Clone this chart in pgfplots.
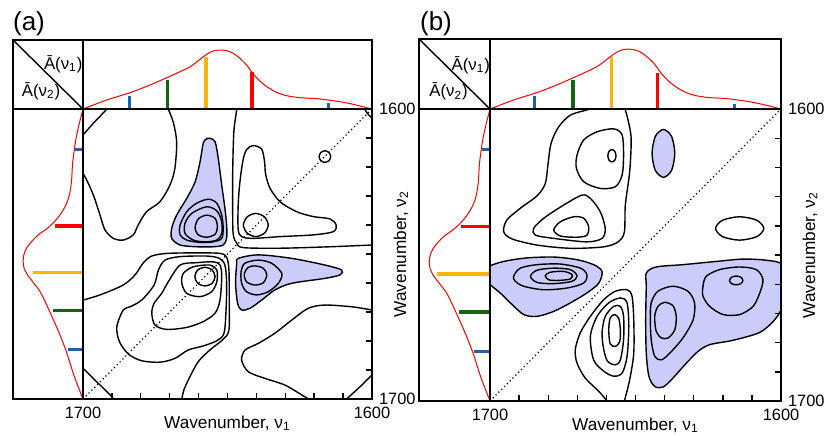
\documentclass[border=0pt]{standalone}
\usepackage{fontspec}
\setmainfont{Liberation Sans}
\usepackage{pgfplots}
\pgfplotsset{compat=1.18}
\usepackage{pgfplotstable}

\definecolor{sblue}{RGB}{32,96,176}
\definecolor{sgreen}{RGB}{20,100,20}
\definecolor{sorange}{RGB}{255,180,0}
\definecolor{lobe}{RGB}{204,204,250}

% mean spectrum (same in both panels)
\pgfplotstableread{
wn a
1700 0
1691.8 0.130
1683.7 0.237
1676.8 0.348
1671 0.454
1666.4 0.541
1662.9 0.614
1659.5 0.720
1657.2 0.792
1654.9 0.841
1652.6 0.855
1650.3 0.845
1648 0.807
1645.7 0.734
1643.4 0.638
1641.1 0.507
1638.8 0.406
1636.4 0.324
1633 0.242
1629.5 0.193
1624.9 0.164
1619.1 0.150
1615.1 0.130
1611.1 0.106
1606.5 0.068
1600 0
}\spec

\pgfplotsset{
  cmap/.style={scale only axis, anchor=north west,
    x dir=reverse, y dir=reverse,
    xmin=1600, xmax=1700, ymin=1600, ymax=1700,
    axis on top, axis line style={line width=1pt},
    tick align=inside, xtick pos=bottom, ytick pos=right, yticklabel pos=right,
    xtick={1700,1600}, xticklabels={1700,1600},
    ytick={1600,1700}, yticklabels={1600,1700},
    minor xtick={1610,1620,...,1690}, minor ytick={1610,1620,...,1690},
    major tick length=2.8pt, minor tick length=2.8pt,
    tick style={black, line width=0.7pt},
    tick label style={font=\fontsize{8.2}{9}\selectfont},
    xticklabel style={yshift=-0.5pt},
    xlabel={Wavenumber, ν\textsubscript{1}},
    ylabel={Wavenumber, ν\textsubscript{2}},
    every axis x label/.style={at={(axis description cs:0.5,0)}, anchor=center, yshift=-12pt, font=\fontsize{8.6}{9}\selectfont},
    every axis y label/.style={at={(axis description cs:1.1,0.5)}, anchor=center, rotate=90, font=\fontsize{8.6}{9}\selectfont}},
  topspec/.style={scale only axis, anchor=north west, x dir=reverse,
    xmin=1600, xmax=1700, ymin=0, ymax=1, ticks=none,
    axis line style={line width=1pt}},
  leftspec/.style={scale only axis, anchor=north west, x dir=reverse, y dir=reverse,
    xmin=0, xmax=1, ymin=1600, ymax=1700, ticks=none,
    axis line style={line width=1pt}},
  ct/.style={black, line width=0.7pt, smooth cycle},
  co/.style={black, line width=0.7pt, smooth},
  cf/.style={draw=black, fill=lobe, line width=0.7pt, smooth cycle},
  diag/.style={black, line width=0.6pt, dash pattern=on 0.6pt off 1.4pt},
  specline/.style={red, line width=0.5pt, smooth},
}

\begin{document}
\begin{tikzpicture}
\useasboundingbox (0,0) rectangle (412pt,-217.5pt);

%%%%%%%%%%%%%%%% panel (a)
\node[font=\fontsize{13}{14}\selectfont] at (14.5pt,-12pt) {(a)};
\draw[line width=1pt] (6.5pt,-20pt) rectangle (41.5pt,-54.5pt);
\draw[line width=0.7pt] (6.5pt,-20pt) -- (41.5pt,-54.5pt);
\node[font=\fontsize{8.4}{9}\selectfont] at (31.6pt,-32pt) {Ā(ν\textsubscript{1})};
\node[font=\fontsize{8.4}{9}\selectfont] at (20.5pt,-45.4pt) {Ā(ν\textsubscript{2})};

\begin{axis}[topspec, at={(41.5pt,-20pt)}, width=144.5pt, height=34.5pt]
\addplot[specline] table[x=wn, y=a] {\spec};
\addplot[ycomb, sblue, line width=1.5pt] coordinates {(1684,0.19) (1615,0.08)};
\addplot[ycomb, sgreen, line width=1.8pt] coordinates {(1670.7,0.42)};
\addplot[ycomb, sorange, line width=1.8pt] coordinates {(1657.5,0.76)};
\addplot[ycomb, red, line width=1.8pt] coordinates {(1641.6,0.53)};
\end{axis}

\begin{axis}[leftspec, at={(6.5pt,-54.5pt)}, width=35pt, height=145pt]
\addplot[specline] table[x=a, y=wn] {\spec};
\addplot[xcomb, sblue, line width=1.5pt] coordinates {(0.22,1683) (0.11,1614)};
\addplot[xcomb, sgreen, line width=1.8pt] coordinates {(0.43,1669.5)};
\addplot[xcomb, sorange, line width=1.8pt] coordinates {(0.72,1656.4)};
\addplot[xcomb, red, line width=1.8pt] coordinates {(0.40,1640.3)};
\end{axis}

\begin{axis}[cmap, at={(41.5pt,-54.5pt)}, width=144.5pt, height=145pt]
% negative (shaded) peaks
\addplot[cf] coordinates {(1656.1,1610.1) (1654.3,1611.3) (1653.2,1617) (1652,1626.2) (1650.9,1634.2) (1650.3,1640) (1650.3,1644.6) (1651.5,1646.9) (1654.9,1647.5) (1660.7,1647.5) (1666.4,1646.9) (1669.3,1644.6) (1669.3,1641.1) (1667.6,1636.6) (1664.1,1630.8) (1661.2,1625.1) (1659.5,1618.2) (1658.4,1611.8) (1657.4,1610.4)};
\addplot[ct] coordinates {(1656.6,1631.1) (1653.7,1632.5) (1652,1636.6) (1651.5,1641.1) (1652,1644.6) (1654.9,1645.8) (1659.5,1646) (1664.1,1645.2) (1666.4,1643.4) (1666.4,1640) (1664.1,1635.4) (1660.7,1632.5)};
\addplot[ct] coordinates {(1657.2,1633.7) (1653.6,1635.2) (1652,1638.9) (1652,1642.9) (1653.7,1645.2) (1657.8,1645.8) (1661.8,1645.2) (1664.7,1642.9) (1664.7,1639.4) (1662.4,1636)};
\addplot[ct] coordinates {(1657.2,1636.6) (1654.3,1637.7) (1653.5,1640.6) (1654.3,1643.2) (1657.2,1644.2) (1660.1,1643.4) (1661.2,1640.9) (1660.1,1637.9)};
\addplot[cf] coordinates {(1646.3,1651.5) (1639.3,1650.3) (1627.8,1651.5) (1616.3,1653.8) (1610.5,1655.5) (1611.1,1657.2) (1616.3,1658.4) (1627.8,1660.1) (1633.6,1662.4) (1638.2,1665.9) (1642.2,1668.7) (1645.1,1669.3) (1646.5,1667) (1647.2,1660.1) (1646.8,1653.2)};
\addplot[ct] coordinates {(1644,1653.2) (1639.3,1652.1) (1634.7,1653.2) (1631.2,1656.7) (1632.4,1660.1) (1635.9,1663) (1639.9,1664.1) (1643.4,1663) (1645.1,1660.1) (1645.3,1656.1)};
\addplot[ct] coordinates {(1640.5,1654.1) (1637.6,1654.9) (1636.4,1657.2) (1637.6,1659.9) (1640.5,1660.7) (1643.4,1659.6) (1644.2,1656.9) (1642.8,1654.6)};
% positive peaks
\addplot[co] coordinates {(1701,1610.5) (1700,1609) (1696.4,1604.9) (1692,1600.3) (1691,1599)};
\addplot[co] coordinates {(1671,1598) (1670.5,1600) (1668.8,1604.4) (1667.6,1611.3) (1668.2,1620.4) (1669.9,1626.2) (1673.4,1632) (1678,1635.4) (1680.9,1640) (1682.6,1643.4) (1686.1,1645.2) (1689.5,1644.6) (1692.4,1641.7) (1694.1,1636.6) (1696.4,1629.7) (1698.7,1624.5) (1700,1622.2) (1701,1620)};
\addplot[co] coordinates {(1647,1598) (1646.8,1600) (1647.8,1607.8) (1648.2,1621.6) (1648.2,1636.6) (1648,1643.4) (1646.8,1646.3) (1644.5,1647.8) (1631.8,1648) (1614.5,1647.5) (1600,1646.9) (1598,1646.8)};
\addplot[ct] coordinates {(1641.2,1612.6) (1638.2,1613.8) (1637.2,1618) (1636.8,1622.5) (1635.3,1627.3) (1631.8,1632) (1626.1,1635.4) (1620.3,1637.1) (1614.5,1637.9) (1612.4,1640) (1613.4,1642.3) (1620.3,1643.4) (1631.8,1644) (1641.1,1644.6) (1645.1,1644) (1646.3,1641.5) (1646.3,1633.1) (1645.7,1625.1) (1644.6,1617.5) (1643.4,1614)};
\addplot[ct] coordinates {(1644.5,1640) (1643.2,1642.8) (1640.2,1644) (1637.2,1642.8) (1635.9,1640) (1637.2,1637.2) (1640.2,1636) (1643.2,1637.2)};
\addplot[ct] coordinates {(1618.3,1616.4) (1617.7,1617.8) (1616.3,1618.4) (1614.9,1617.8) (1614.3,1616.4) (1614.9,1615) (1616.3,1614.4) (1617.7,1615)};
\addplot[co] coordinates {(1603,1599) (1602.2,1600.6) (1601,1602.2) (1599.5,1603.5)};
\addplot[co] coordinates {(1701,1666.3) (1700,1665.9) (1694.1,1664.1) (1686.1,1660.7) (1682,1657.2) (1679.1,1653) (1676.2,1650.7) (1671,1649.8) (1660.7,1649.6) (1652.6,1649.8) (1650.3,1651.1) (1649.5,1655.5) (1649.4,1665.9) (1649.5,1676.2) (1651.5,1679.4) (1656.1,1683.1) (1660.1,1687.1) (1663,1692.3) (1665.1,1696.9) (1665.8,1700) (1666,1701)};
\addplot[ct] coordinates {(1686.1,1669.3) (1688.3,1675.1) (1687.4,1680.2) (1684.3,1684.5) (1679.7,1686.8) (1673.4,1687.3) (1668.2,1686) (1663.6,1683.1) (1658.4,1681.7) (1653.7,1679.9) (1651.2,1677.3) (1650.5,1669.3) (1650.3,1660.1) (1650.9,1653.8) (1652.8,1651.5) (1657.2,1650.7) (1666.4,1650.9) (1671.6,1652.1) (1673.9,1655.5) (1675.4,1660.7) (1679.7,1665.9) (1683.7,1668.2)};
\addplot[ct] coordinates {(1676.2,1670.4) (1675.1,1674.5) (1671,1676) (1664.1,1675.3) (1658.4,1673.3) (1654.3,1670.4) (1652.6,1665.9) (1652,1657.8) (1652.6,1653.8) (1654.9,1652.7) (1660.7,1653) (1666.4,1653.8) (1670.5,1659.6) (1672.8,1663.6) (1675.4,1667)};
\addplot[ct] coordinates {(1665.8,1660.1) (1664.1,1663.6) (1659.5,1664.7) (1655.5,1663) (1653.7,1659.6) (1653.7,1655.5) (1656.1,1653.8) (1661.8,1654.4) (1665.3,1656.7)};
\addplot[ct] coordinates {(1654.3,1657.8) (1655.3,1660.1) (1657.8,1661) (1660.3,1660.1) (1661.3,1657.8) (1660.3,1655.5) (1657.8,1654.6) (1655.3,1655.5)};
\addplot[co] coordinates {(1701,1688.8) (1700,1689.4) (1695.3,1694) (1689.5,1699.8) (1689,1701)};
\addplot[co] coordinates {(1599,1669.5) (1600,1669.3) (1607,1668.2) (1616.3,1667.6) (1622,1668.7) (1627.8,1672.8) (1633.6,1677.3) (1639.3,1680.8) (1643.9,1683.1) (1645.1,1686.6) (1642.8,1690.6) (1637,1692.9) (1630.1,1695.2) (1624.3,1698.6) (1622,1700) (1621.5,1701)};
\addplot[co] coordinates {(1599,1691) (1600,1691.7) (1604.7,1696.3) (1608.8,1700) (1609.5,1701)};
\addplot[diag] coordinates {(1700,1700) (1600,1600)};
\end{axis}

%%%%%%%%%%%%%%%% panel (b)
\node[font=\fontsize{13}{14}\selectfont] at (218pt,-12pt) {(b)};
\draw[line width=1pt] (209.5pt,-19.5pt) rectangle (245pt,-54.5pt);
\draw[line width=0.7pt] (209.5pt,-19.5pt) -- (245pt,-54.5pt);
\node[font=\fontsize{8.4}{9}\selectfont] at (235.4pt,-32.5pt) {Ā(ν\textsubscript{1})};
\node[font=\fontsize{8.4}{9}\selectfont] at (224.3pt,-45.8pt) {Ā(ν\textsubscript{2})};

\begin{axis}[topspec, at={(245pt,-19.5pt)}, width=145.5pt, height=35pt]
\addplot[specline] table[x=wn, y=a] {\spec};
\addplot[ycomb, sblue, line width=1.5pt] coordinates {(1684.6,0.18) (1616,0.07)};
\addplot[ycomb, sgreen, line width=1.8pt] coordinates {(1671.5,0.41)};
\addplot[ycomb, sorange, line width=1.8pt] coordinates {(1658.3,0.75)};
\addplot[ycomb, red, line width=1.8pt] coordinates {(1642.4,0.52)};
\end{axis}

\begin{axis}[leftspec, at={(209.5pt,-54.5pt)}, width=35.5pt, height=146pt]
\addplot[specline] table[x=a, y=wn] {\spec};
\addplot[xcomb, sblue, line width=1.5pt] coordinates {(0.22,1683) (0.11,1614)};
\addplot[xcomb, sgreen, line width=1.8pt] coordinates {(0.43,1669.5)};
\addplot[xcomb, sorange, line width=1.8pt] coordinates {(0.75,1656.4)};
\addplot[xcomb, red, line width=1.8pt] coordinates {(0.41,1640.3)};
\end{axis}

\begin{axis}[cmap, at={(245pt,-54.5pt)}, width=145.5pt, height=146pt]
% negative (shaded) peaks
\addplot[cf] coordinates {(1644.3,1615.2) (1643.2,1621) (1640.4,1623.4) (1637.6,1621) (1636.5,1615.2) (1637.6,1609.4) (1640.4,1607) (1643.2,1609.4)};
\addplot[cf] coordinates {(1700.5,1654) (1695.3,1652.2) (1687.3,1651) (1678.1,1650.7) (1670.1,1651.6) (1664.4,1653.3) (1661.5,1655.6) (1662.6,1659.6) (1666.7,1663) (1672.4,1666.4) (1678.1,1669.3) (1683.8,1671) (1688.4,1670.4) (1693,1666.4) (1696.5,1663) (1699.3,1660.7) (1701,1659) (1702,1656.5)};
\addplot[ct] coordinates {(1691.9,1657.3) (1689.6,1654.5) (1683.8,1653.3) (1675.8,1653.1) (1668.9,1654.5) (1666.7,1656.8) (1667.8,1659.6) (1673.5,1661.3) (1681.5,1661.9) (1688.4,1660.7) (1691.3,1659)};
\addplot[ct] coordinates {(1686.1,1657.3) (1683.8,1655.2) (1678.1,1654.5) (1672.4,1655) (1670.1,1657.1) (1671.8,1659) (1678.1,1659.8) (1683.8,1659.4)};
\addplot[ct] coordinates {(1681,1657.1) (1679.3,1655.9) (1674.7,1655.6) (1671.8,1656.7) (1672.4,1658.2) (1676.4,1658.7) (1679.8,1658.5)};
\addplot[cf] coordinates {(1646.3,1656.2) (1642.9,1654.1) (1633.7,1653.3) (1622.2,1652.2) (1613.1,1651.4) (1605,1651.8) (1599.5,1653.3) (1598.5,1660) (1599.5,1667.6) (1602.2,1672.2) (1607.3,1676.5) (1616.5,1679.2) (1624.5,1680.7) (1628.5,1683) (1632.5,1687) (1637.1,1692.1) (1640.5,1695.2) (1643.4,1695) (1645.4,1691.5) (1646.3,1683.6) (1646.5,1672.2) (1646.3,1660.7)};
\addplot[ct] coordinates {(1644.6,1666.4) (1642.3,1662.4) (1637.1,1660.7) (1632,1662.4) (1629.7,1666.4) (1630.2,1672.2) (1633.7,1678.4) (1638.2,1683.6) (1641.1,1685.9) (1643.4,1684.7) (1644.6,1679) (1644.9,1672.2)};
\addplot[ct] coordinates {(1643.4,1671) (1642.3,1667.6) (1640,1666.2) (1637.1,1667.4) (1636,1671) (1636.5,1675.6) (1638.8,1678.4) (1641.1,1678.4) (1642.9,1676.1)};
\addplot[ct] coordinates {(1626.8,1660.7) (1625.7,1657.3) (1621.1,1655) (1614.2,1654.1) (1608.5,1655) (1606.2,1658.4) (1607.3,1663) (1609.6,1667.6) (1614.2,1670.4) (1619.9,1670.4) (1624.5,1667.6) (1626.8,1664.1)};
\addplot[ct] coordinates {(1617.7,1658.7) (1617,1659.8) (1615.4,1660.2) (1613.8,1659.8) (1613.1,1658.7) (1613.8,1657.6) (1615.4,1657.2) (1617,1657.6)};
% positive peaks
\addplot[co] coordinates {(1653.5,1599) (1653.5,1600.3) (1652.7,1603.2) (1651.5,1610) (1652,1621.5) (1653.5,1632.9) (1653.8,1642) (1655.8,1645.4) (1660.9,1647.2) (1672.4,1647.7) (1683.8,1646.6) (1692.4,1644.5) (1695.3,1642) (1694.2,1638) (1689.6,1634) (1683.8,1629.7) (1681,1625.5) (1680.1,1619.2) (1679,1611.7) (1676.4,1606.1) (1672.4,1602.1) (1666.7,1600.3) (1663,1599)};
\addplot[ct] coordinates {(1670.1,1615.8) (1667.8,1610.6) (1663.2,1607.8) (1657.5,1606.8) (1654.6,1608.9) (1654.1,1615.8) (1654.6,1622.6) (1656.9,1626.6) (1662.1,1627.2) (1667.8,1624.9) (1670.3,1620.3)};
\addplot[ct] coordinates {(1659.5,1616) (1659.1,1617.5) (1658.1,1618.1) (1657.1,1617.5) (1656.7,1616) (1657.1,1614.5) (1658.1,1613.9) (1659.1,1614.5)};
\addplot[ct] coordinates {(1685,1640.9) (1681.5,1637.4) (1674.7,1632.9) (1668.4,1629.5) (1665.5,1630.6) (1662.1,1635.2) (1660.4,1640.9) (1661.5,1644.3) (1666.7,1645.5) (1678.1,1644.3) (1684.4,1643.2)};
\addplot[ct] coordinates {(1678.1,1641.4) (1675.8,1638.6) (1671.2,1636.9) (1667.8,1637.4) (1666.1,1640.3) (1666.7,1643.2) (1670.1,1643.9) (1675.8,1643.5)};
\addplot[ct] coordinates {(1622.5,1640.9) (1620.1,1643.7) (1614.2,1644.9) (1608.3,1643.7) (1605.9,1640.9) (1608.3,1638.1) (1614.2,1636.9) (1620.1,1638.1)};
\addplot[co] coordinates {(1659.6,1701) (1659.8,1700) (1662.6,1696.7) (1667.3,1692.1) (1670.1,1687) (1670.7,1682.4) (1669,1676.7) (1665.5,1671) (1660.9,1665.3) (1656.9,1662.4) (1652.9,1661.9) (1651.2,1664.1) (1650.6,1672.2) (1650.6,1683.6) (1652,1692.7) (1653.8,1700) (1654,1701)};
\addplot[ct] coordinates {(1665.5,1677.8) (1663.2,1671) (1659.2,1666.4) (1655.2,1664.7) (1652.9,1666.4) (1652.3,1674.4) (1652.9,1684.7) (1654.6,1690.4) (1657.5,1691.5) (1660.9,1689.8) (1664.4,1685.9)};
\addplot[ct] coordinates {(1661.5,1676.7) (1660.4,1671) (1657.5,1667.6) (1655.2,1667.6) (1654.1,1671) (1654.1,1679) (1655.2,1685.9) (1656.9,1687.6) (1659.6,1686.4) (1660.9,1682.4)};
\addplot[ct] coordinates {(1659.2,1675.6) (1658.7,1671.6) (1657.3,1670.4) (1655.8,1671.6) (1655.2,1675.6) (1655.4,1679.6) (1656.9,1681.3) (1658.7,1680.4)};
\addplot[diag] coordinates {(1700,1700) (1600,1600)};
\end{axis}
\end{tikzpicture}
\end{document}
